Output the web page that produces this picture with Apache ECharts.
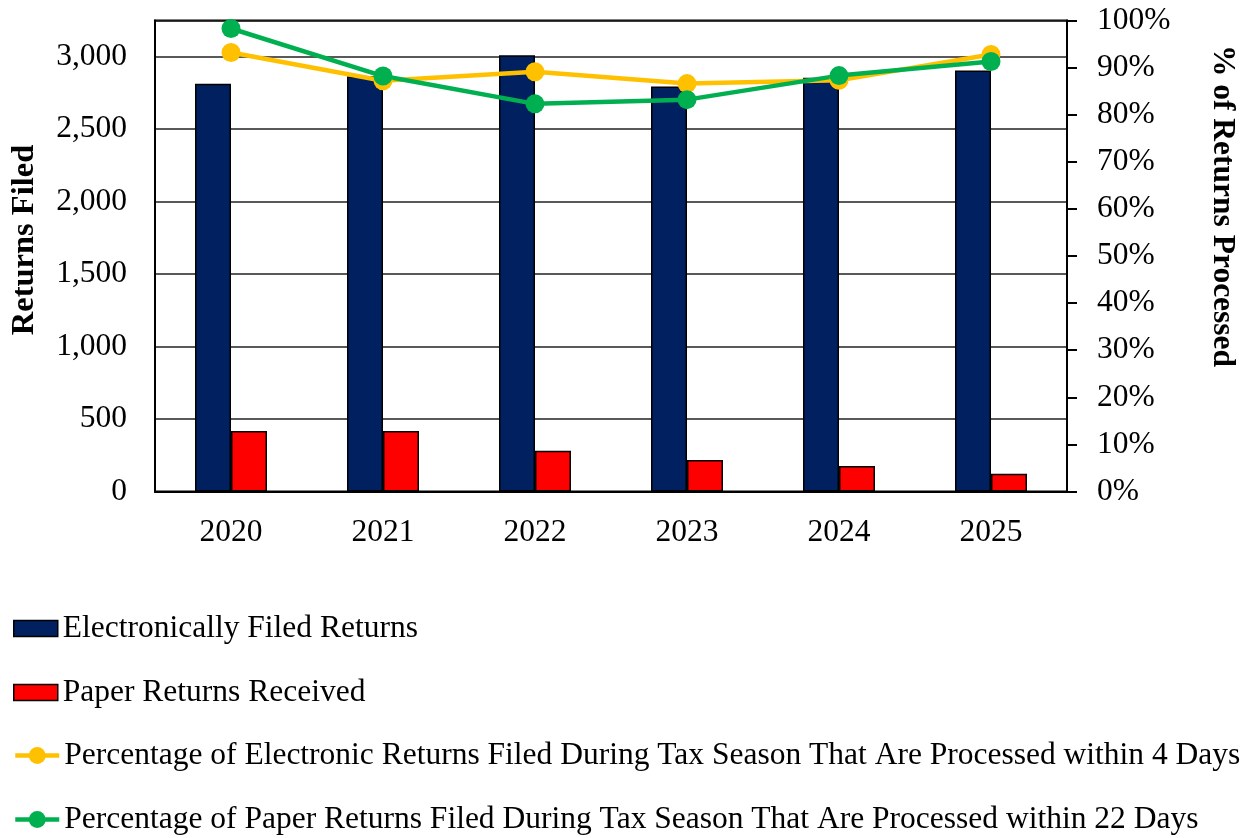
<!DOCTYPE html>
<html>
<head>
<meta charset="utf-8">
<script src="https://cdn.jsdelivr.net/npm/echarts@6/dist/echarts.min.js"></script>
<style>
  html, body { margin: 0; padding: 0; background: #fff; }
  #chart { width: 1248px; height: 838px; }
</style>
</head>
<body>
<div id="chart"></div>
<script>
// Tax return filing volumes and processing-time percentages, 2020-2025
const years = ['2020', '2021', '2022', '2023', '2024', '2025'];
const electronicReturns = [2814, 2865, 3010, 2795, 2855, 2905];
const paperReturns = [418, 418, 282, 217, 176, 123];
const electronicPct4Days = [93.2, 87.2, 89.1, 86.6, 87.3, 92.8];
const paperPct22Days = [98.3, 88.2, 82.3, 83.2, 88.3, 91.3];

const seriesNames = [
  'Electronically Filed Returns',
  'Paper Returns Received',
  'Percentage of Electronic Returns Filed During Tax Season That Are Processed within 4 Days',
  'Percentage of Paper Returns Filed During Tax Season That Are Processed within 22 Days'
];

const FONT = 'Liberation Serif';
const FS = 31.5;
const chart = echarts.init(document.getElementById('chart'), null, { renderer: 'canvas' });

const legendText = { fontFamily: FONT, fontSize: FS, color: '#000' };

chart.setOption({
  animation: false,
  backgroundColor: '#ffffff',
  textStyle: { fontFamily: FONT, color: '#000' },
  grid: {
    left: 155, right: 181, top: 20.5, bottom: 346.5,
    outerBoundsMode: 'none',
    containLabel: false,
    show: true, borderColor: '#000', borderWidth: 2, backgroundColor: 'transparent'
  },
  legend: [
    {
      // bar series keys
      orient: 'vertical',
      left: 13, top: 612.5, padding: 0,
      itemWidth: 44, itemHeight: 16,
      itemGap: 32,
      icon: 'rect',
      itemStyle: { borderColor: '#000', borderWidth: 1.5 },
      textStyle: legendText,
      data: seriesNames.slice(0, 2)
    },
    {
      // line series keys
      orient: 'vertical',
      left: 13, top: 739.5, padding: 0,
      itemWidth: 44, itemHeight: 21,
      itemGap: 32,
      lineStyle: { width: 4.5 },
      textStyle: legendText,
      data: seriesNames.slice(2)
    }
  ],
  xAxis: {
    type: 'category',
    data: years,
    axisLine: { lineStyle: { color: '#000', width: 2 } },
    axisTick: { show: false },
    axisLabel: { fontFamily: FONT, fontSize: FS, color: '#000', margin: 25 }
  },
  yAxis: [
    {
      type: 'value',
      min: 0, max: 3250, interval: 500,
      name: 'Returns Filed',
      nameLocation: 'middle',
      nameGap: 114,
      nameTextStyle: { fontFamily: FONT, fontSize: 32.5, fontWeight: 'bold', color: '#000', padding: [0, 0, 0, 32] },
      axisLine: { show: true, lineStyle: { color: '#000', width: 2 } },
      axisTick: { show: false },
      splitLine: { lineStyle: { color: '#222', width: 1.5 } },
      axisLabel: {
        fontFamily: FONT, fontSize: FS, color: '#000', margin: 28,
        formatter: v => (v % 500 === 0 ? v.toLocaleString('en-US') : '')
      }
    },
    {
      type: 'value',
      min: 0, max: 100, interval: 10,
      name: '% of Returns Processed',
      nameLocation: 'middle',
      nameGap: 139,
      nameRotate: -90,
      nameTextStyle: { fontFamily: FONT, fontSize: 31.5, fontWeight: 'bold', color: '#000', padding: [0, 100, 0, 0] },
      axisLine: { show: true, lineStyle: { color: '#000', width: 2 } },
      axisTick: { show: true, length: 10, lineStyle: { color: '#000', width: 2 } },
      splitLine: { show: false },
      axisLabel: { fontFamily: FONT, fontSize: FS, color: '#000', margin: 30, formatter: '{value}%' }
    }
  ],
  series: [
    {
      name: seriesNames[0],
      type: 'bar',
      data: electronicReturns,
      barWidth: 36,
      barGap: '0%',
      itemStyle: { color: '#002060', borderColor: '#000', borderWidth: 1.5 }
    },
    {
      name: seriesNames[1],
      type: 'bar',
      data: paperReturns,
      barWidth: 36,
      barGap: '0%',
      itemStyle: { color: '#FF0000', borderColor: '#000', borderWidth: 1.5 }
    },
    {
      name: seriesNames[2],
      type: 'line',
      yAxisIndex: 1,
      data: electronicPct4Days,
      symbol: 'circle',
      symbolSize: 19,
      lineStyle: { color: '#FFC000', width: 4.5 },
      itemStyle: { color: '#FFC000' }
    },
    {
      name: seriesNames[3],
      type: 'line',
      yAxisIndex: 1,
      data: paperPct22Days,
      symbol: 'circle',
      symbolSize: 19,
      lineStyle: { color: '#00B050', width: 4.5 },
      itemStyle: { color: '#00B050' }
    }
  ]
});
</script>
</body>
</html>
